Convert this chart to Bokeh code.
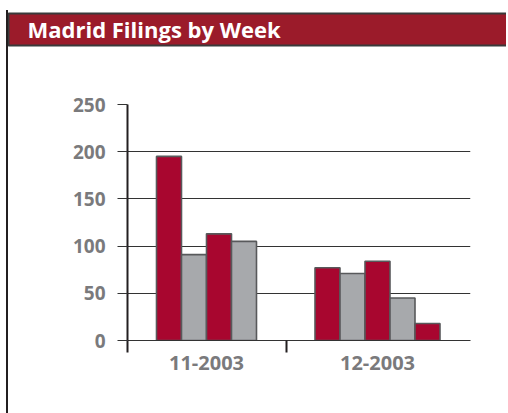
from bokeh.plotting import figure
from bokeh.models import Range1d, FixedTicker, ColumnDataSource, Title
from bokeh.embed import file_html
from bokeh.resources import INLINE

# ---- data ----
months = ["11-2003", "12-2003"]
nov_weeks = [195, 91, 113, 105]
dec_weeks = [77, 71, 84, 45, 18]
y_ticks = [0, 50, 100, 150, 200, 250]
title_text = "Madrid Filings by Week"

# ---- styles / layout constants ----
RED = "#a8062f"
GRAY = "#a7a9ac"
BAND = "#9b1b2a"
DARK = "#231f20"
LABEL_GRAY = "#7a7a7c"
FONT = "Open Sans"
W, H = 500, 403
BAR_W = 25
group_centers = [79, 250]     # frame x position of each month group
boundaries = [0, 158.5]       # month separator ticks

p = figure(width=W, height=H, toolbar_location=None, output_backend="svg",
           x_range=Range1d(0, 343), y_range=Range1d(0, 250),
           min_border_left=119, min_border_right=38, min_border_top=94, min_border_bottom=73)
p.margin = (10, 0, 0, 6)
p.styles = {"border-left": "2px solid #231f20"}
p.outline_line_color = None
p.background_fill_color = "white"
p.border_fill_color = "white"
p.xgrid.visible = False
p.ygrid.grid_line_color = "#333333"
p.ygrid.grid_line_width = 1
p.ygrid.ticker = FixedTicker(ticks=y_ticks)

# header band: the title with a wide background box (padding is left, right, top, bottom)
t = p.title
t.text = title_text
t.align = "left"
t.vertical_align = "bottom"
t.offset = -119
t.standoff = 0
t.text_color = "white"
t.text_font = FONT
t.text_font_style = "bold"
t.text_font_size = "22px"
t.background_fill_color = BAND
t.background_fill_alpha = 1
t.border_line_color = "#3a3a3a"
t.border_line_width = 2
t.padding = (19, 500, 0, 2)

# empty spacer between the band and the plot area
p.add_layout(Title(text=" ", text_font_size="1px", standoff=56), "above")

groups = [nov_weeks, dec_weeks]
xs, tops, colors = [], [], []
for center, vals in zip(group_centers, groups):
    n = len(vals)
    for i, v in enumerate(vals):
        xs.append(center + (i - (n - 1) / 2) * BAR_W)
        tops.append(v)
        colors.append(RED if i % 2 == 0 else GRAY)
src = ColumnDataSource(dict(x=xs, top=tops, color=colors))
p.vbar(x="x", top="top", width=BAR_W, bottom=0, fill_color="color",
       line_color="#58595b", line_width=1.6, source=src)

# y axis
ya = p.yaxis[0]
ya.ticker = FixedTicker(ticks=y_ticks)
ya.axis_line_color = DARK
ya.axis_line_width = 2
ya.major_tick_out = 10
ya.major_tick_in = 0
ya.major_tick_line_color = "#333333"
ya.major_tick_line_width = 1
ya.minor_tick_line_color = None
ya.major_label_text_font = FONT
ya.major_label_text_font_style = "bold"
ya.major_label_text_font_size = "19px"
ya.major_label_text_color = LABEL_GRAY
ya.major_label_standoff = 12

# x axis
xa = p.xaxis[0]
xa.ticker = FixedTicker(ticks=group_centers, minor_ticks=boundaries)
xa.major_label_overrides = {c: m for c, m in zip(group_centers, months)}
xa.axis_line_color = "#333333"
xa.axis_line_width = 1
xa.major_tick_out = 0
xa.major_tick_in = 0
xa.major_tick_line_color = None
xa.minor_tick_out = 12
xa.minor_tick_in = 0
xa.minor_tick_line_color = DARK
xa.minor_tick_line_width = 2
xa.major_label_text_font = FONT
xa.major_label_text_font_style = "bold"
xa.major_label_text_font_size = "20px"
xa.major_label_text_color = LABEL_GRAY
xa.major_label_standoff = 3

open("out.html", "w").write(file_html(p, INLINE))
